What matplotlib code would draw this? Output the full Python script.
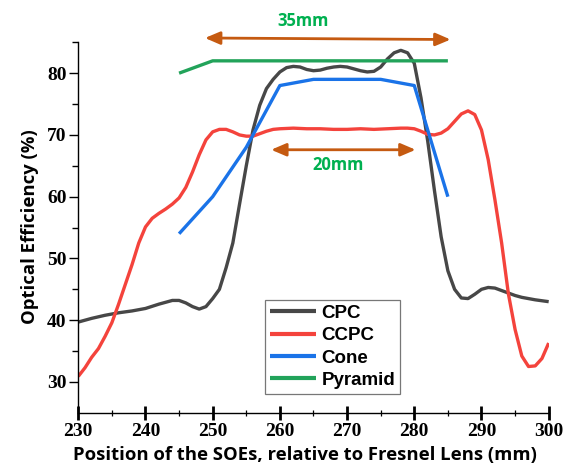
import matplotlib
matplotlib.use("Agg")
import matplotlib.pyplot as plt
from matplotlib import font_manager
from matplotlib.ticker import MultipleLocator

# Optical efficiency (%) versus SOE position (mm)
cpc_x = [230, 232, 234, 236, 238, 240, 242, 244, 245, 246, 247, 248, 249, 250,
         251, 252, 253, 254, 255, 256, 257, 258, 259, 260, 261, 262, 263, 264,
         265, 266, 267, 268, 269, 270, 271, 272, 273, 274, 275, 276, 277, 278,
         279, 280, 281, 282, 283, 284, 285, 286, 287, 288, 289, 290, 291, 292,
         293, 294, 295, 296, 298, 300]
cpc_y = [39.7, 40.3, 40.8, 41.2, 41.5, 41.9, 42.6, 43.2, 43.2, 42.8, 42.2, 41.8, 42.2, 43.5,
         45.0, 48.5, 52.5, 58.8, 65.0, 70.8, 74.8, 77.5, 79.0, 80.2, 80.9, 81.1, 81.0, 80.6,
         80.4, 80.5, 80.8, 81.0, 81.1, 81.0, 80.7, 80.4, 80.2, 80.3, 81.0, 82.3, 83.3, 83.7,
         83.3, 81.6, 76.0, 69.0, 61.0, 53.5, 48.0, 45.0, 43.6, 43.5, 44.2, 45.0, 45.3, 45.2,
         44.8, 44.4, 44.0, 43.7, 43.3, 43.0]

ccpc_x = [230, 231, 232, 233, 234, 235, 236, 237, 238, 239, 240, 241, 242, 243,
          244, 245, 246, 247, 248, 249, 250, 251, 252, 253, 254, 255, 256, 257,
          258, 259, 260, 262, 264, 266, 268, 270, 272, 274, 276, 278, 279, 280,
          281, 282, 283, 284, 285, 286, 287, 288, 289, 290, 291, 292, 293, 294,
          295, 296, 297, 298, 299, 300]
ccpc_y = [30.9, 32.3, 34.0, 35.4, 37.4, 39.6, 42.6, 45.8, 49.0, 52.5, 55.1, 56.5, 57.3, 58.0,
          58.8, 59.8, 61.5, 64.0, 66.8, 69.2, 70.5, 70.9, 70.9, 70.5, 70.0, 69.8, 69.8, 70.2,
          70.6, 70.9, 71.0, 71.1, 71.0, 71.0, 70.9, 70.9, 71.0, 70.9, 71.0, 71.1, 71.1, 71.0,
          70.6, 70.1, 70.0, 70.3, 71.0, 72.2, 73.4, 73.9, 73.3, 70.8, 66.0, 59.5, 52.5, 44.3,
          38.5, 34.2, 32.5, 32.6, 33.8, 36.3]

cone_x = [245, 250, 255, 260, 265, 270, 275, 280, 285]
cone_y = [54, 60, 68, 78, 79, 79, 79, 78, 60]

pyramid_x = [245, 250, 255, 260, 265, 270, 275, 280, 285]
pyramid_y = [80, 82, 82, 82, 82, 82, 82, 82, 82]

series_names = ["CPC", "CCPC", "Cone", "Pyramid"]
series_colors = ["#474747", "#f4433c", "#1a73e8", "#22a35a"]

x_ticks = [230, 240, 250, 260, 270, 280, 290, 300]
y_ticks = [30, 40, 50, 60, 70, 80]

# Width markers: (start, end, y at start, y at end, label, label_x, label_y)
wide_span = (248.85, 285.4, 85.7, 85.45, "35mm", 263.4, 88.5)
narrow_span = (258.7, 280.2, 67.6, 67.6, "20mm", 268.6, 65.2)

arrow_color = "#c55a11"
note_color = "#00b050"

fig = plt.figure(figsize=(5.66, 4.70), dpi=100)
ax = fig.add_axes([0.1383, 0.1223, 0.8311, 0.789])

data = [(cpc_x, cpc_y), (ccpc_x, ccpc_y), (cone_x, cone_y), (pyramid_x, pyramid_y)]
for (xs, ys), name, color in zip(data, series_names, series_colors):
    ax.plot(xs, ys, color=color, lw=2.4, label=name, solid_capstyle="butt",
            solid_joinstyle="round")

ax.set_xlim(230, 300)
ax.set_ylim(25.05, 85.1)

for side in ("top", "right"):
    ax.spines[side].set_visible(False)
for side in ("left", "bottom"):
    ax.spines[side].set_linewidth(1.0)

tick_prop = font_manager.FontProperties(family=["Liberation Serif", "DejaVu Serif"],
                                        weight="bold", size=14)
ax.set_xticks(x_ticks, labels=[str(v) for v in x_ticks])
ax.set_yticks(y_ticks, labels=[str(v) for v in y_ticks])
ax.xaxis.set_minor_locator(MultipleLocator(5))
ax.yaxis.set_minor_locator(MultipleLocator(5))
ax.tick_params(axis="x", which="major", direction="inout", length=9.5, width=2.0, pad=3)
ax.tick_params(axis="x", which="minor", direction="inout", length=5, width=0.9)
ax.tick_params(axis="y", which="major", direction="out", length=6.5, width=1.0, pad=2)
ax.tick_params(axis="y", which="minor", direction="out", length=4.3, width=1.0)

label_font = dict(family="Open Sans", weight="bold", size=13.3)
ax.set_xlabel("Position of the SOEs, relative to Fresnel Lens (mm)", labelpad=4, **label_font)
ax.xaxis.set_label_coords(0.481, -0.09)
ax.set_ylabel("Optical Efficiency (%)", labelpad=6, **label_font)

leg = ax.legend(loc="upper left", bbox_to_anchor=(0.398, 0.3034), borderaxespad=0,
                prop=dict(family="Liberation Sans", weight="bold", size=13.5),
                handlelength=2.45, handletextpad=0.3, labelspacing=0.28,
                borderpad=0.25, fancybox=False, frameon=True)
leg.get_frame().set_edgecolor("#555555")
leg.get_frame().set_linewidth(0.9)
for h in leg.get_lines():
    h.set_linewidth(3.0)

for x0, x1, y0, y1, text, tx, ty in (wide_span, narrow_span):
    ax.annotate("", xy=(x1, y1), xytext=(x0, y0),
                arrowprops=dict(arrowstyle="<|-|>,head_length=0.75,head_width=0.32",
                                color=arrow_color, lw=2.0, shrinkA=0, shrinkB=0,
                                mutation_scale=12),
                annotation_clip=False)
    ax.text(tx, ty, text, ha="center", va="center", color=note_color,
            family="Open Sans", weight="bold", size=12, clip_on=False)

fig.canvas.draw()
for lbl in ax.get_xticklabels() + ax.get_yticklabels():
    lbl.set_fontproperties(tick_prop)

fig.savefig("out.png", dpi=100)
